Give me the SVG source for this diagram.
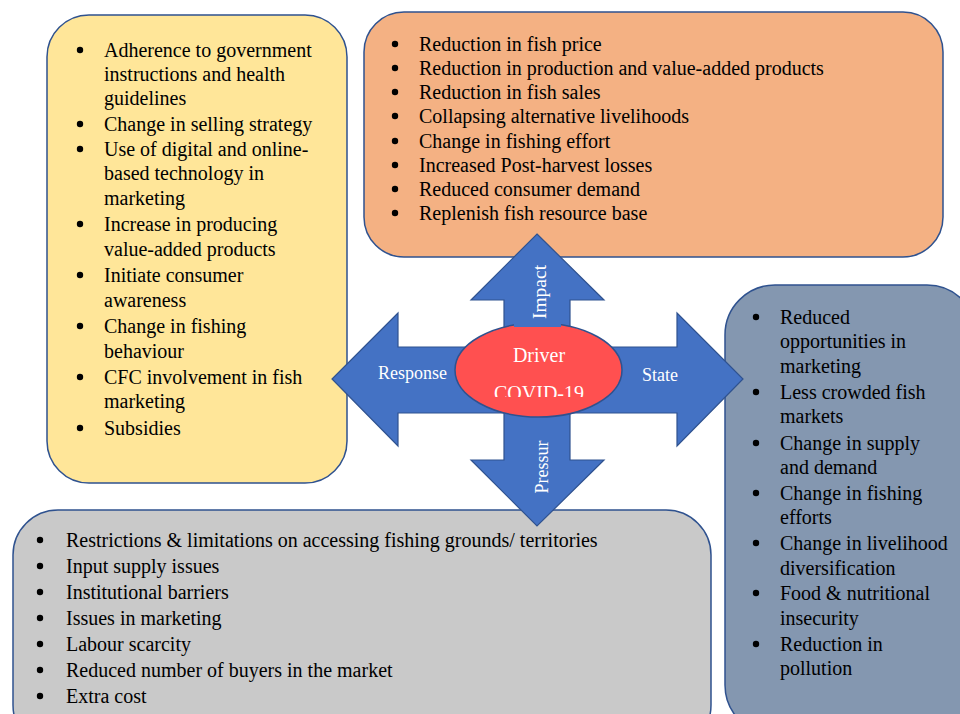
<svg xmlns="http://www.w3.org/2000/svg" width="960" height="714" viewBox="0 0 960 714">
  <style>
    .box { stroke: #2F528F; stroke-width: 1.5; }
    .item { font-family: "Liberation Serif", "Times New Roman", serif; font-size: 20px; fill: #000; }
    .dot { fill: #000; }
    .lbl { font-family: "Liberation Serif", "Times New Roman", serif; font-size: 18px; fill: #FFFFFF; }
    .drv { font-family: "Liberation Serif", "Times New Roman", serif; font-size: 20px; fill: #FFFFFF; text-anchor: middle; }
  </style>
  <defs>
    <clipPath id="ellipseClip">
      <rect x="440" y="320" width="200" height="77"/>
    </clipPath>
  </defs>
  <rect width="960" height="714" fill="#FFFFFF"/>

  <!-- Response box -->
  <g id="response">
    <rect class="box" x="47" y="15" width="300" height="468" rx="42" fill="#FFE699"/>
    <g class="dot">
      <circle cx="80" cy="50" r="3.2"/>
      <circle cx="80" cy="124" r="3.2"/>
      <circle cx="80" cy="149" r="3.2"/>
      <circle cx="80" cy="224" r="3.2"/>
      <circle cx="80" cy="275" r="3.2"/>
      <circle cx="80" cy="326" r="3.2"/>
      <circle cx="80" cy="377" r="3.2"/>
      <circle cx="80" cy="428" r="3.2"/>
    </g>
    <text class="item">
      <tspan x="104" y="57">Adherence to government</tspan>
      <tspan x="104" y="81">instructions and health</tspan>
      <tspan x="104" y="105">guidelines</tspan>
      <tspan x="104" y="131">Change in selling strategy</tspan>
      <tspan x="104" y="156">Use of digital and online-</tspan>
      <tspan x="104" y="180">based technology in</tspan>
      <tspan x="104" y="205">marketing</tspan>
      <tspan x="104" y="231">Increase in producing</tspan>
      <tspan x="104" y="256">value-added products</tspan>
      <tspan x="104" y="282">Initiate consumer</tspan>
      <tspan x="104" y="307">awareness</tspan>
      <tspan x="104" y="333">Change in fishing</tspan>
      <tspan x="104" y="358">behaviour</tspan>
      <tspan x="104" y="384">CFC involvement in fish</tspan>
      <tspan x="104" y="408">marketing</tspan>
      <tspan x="104" y="435">Subsidies</tspan>
    </text>
  </g>

  <!-- Impact box -->
  <g id="impact">
    <rect class="box" x="364" y="12" width="579" height="245" rx="40" fill="#F4B183"/>
    <g class="dot">
      <circle cx="395" cy="44" r="3.2"/>
      <circle cx="395" cy="68" r="3.2"/>
      <circle cx="395" cy="92" r="3.2"/>
      <circle cx="395" cy="116" r="3.2"/>
      <circle cx="395" cy="141" r="3.2"/>
      <circle cx="395" cy="165" r="3.2"/>
      <circle cx="395" cy="189" r="3.2"/>
      <circle cx="395" cy="213" r="3.2"/>
    </g>
    <text class="item">
      <tspan x="419" y="51">Reduction in fish price</tspan>
      <tspan x="419" y="75">Reduction in production and value-added products</tspan>
      <tspan x="419" y="99">Reduction in fish sales</tspan>
      <tspan x="419" y="123">Collapsing alternative livelihoods</tspan>
      <tspan x="419" y="148">Change in fishing effort</tspan>
      <tspan x="419" y="172">Increased Post-harvest losses</tspan>
      <tspan x="419" y="196">Reduced consumer demand</tspan>
      <tspan x="419" y="220">Replenish fish resource base</tspan>
    </text>
  </g>

  <!-- State box -->
  <g id="state">
    <rect class="box" x="725" y="285" width="252" height="450" rx="50" fill="#8497B0"/>
    <g class="dot">
      <circle cx="756" cy="317" r="3.2"/>
      <circle cx="756" cy="392" r="3.2"/>
      <circle cx="756" cy="443" r="3.2"/>
      <circle cx="756" cy="493" r="3.2"/>
      <circle cx="756" cy="543" r="3.2"/>
      <circle cx="756" cy="593" r="3.2"/>
      <circle cx="756" cy="644" r="3.2"/>
    </g>
    <text class="item">
      <tspan x="780" y="324">Reduced</tspan>
      <tspan x="780" y="348">opportunities in</tspan>
      <tspan x="780" y="373">marketing</tspan>
      <tspan x="780" y="399">Less crowded fish</tspan>
      <tspan x="780" y="423">markets</tspan>
      <tspan x="780" y="450">Change in supply</tspan>
      <tspan x="780" y="474">and demand</tspan>
      <tspan x="780" y="500">Change in fishing</tspan>
      <tspan x="780" y="524">efforts</tspan>
      <tspan x="780" y="550">Change in livelihood</tspan>
      <tspan x="780" y="575">diversification</tspan>
      <tspan x="780" y="600">Food &amp; nutritional</tspan>
      <tspan x="780" y="625">insecurity</tspan>
      <tspan x="780" y="651">Reduction in</tspan>
      <tspan x="780" y="675">pollution</tspan>
    </text>
  </g>

  <!-- Pressure box -->
  <g id="pressure">
    <rect class="box" x="13" y="510" width="698" height="240" rx="45" fill="#C9C9C9"/>
    <g class="dot">
      <circle cx="40" cy="540" r="3.2"/>
      <circle cx="40" cy="566" r="3.2"/>
      <circle cx="40" cy="592" r="3.2"/>
      <circle cx="40" cy="618" r="3.2"/>
      <circle cx="40" cy="644" r="3.2"/>
      <circle cx="40" cy="670" r="3.2"/>
      <circle cx="40" cy="696" r="3.2"/>
    </g>
    <text class="item">
      <tspan x="66" y="547">Restrictions &amp; limitations on accessing fishing grounds/ territories</tspan>
      <tspan x="66" y="573">Input supply issues</tspan>
      <tspan x="66" y="599">Institutional barriers</tspan>
      <tspan x="66" y="625">Issues in marketing</tspan>
      <tspan x="66" y="651">Labour scarcity</tspan>
      <tspan x="66" y="677">Reduced number of buyers in the market</tspan>
      <tspan x="66" y="703">Extra cost</tspan>
    </text>
  </g>

  <!-- Four-way arrow linking the driver to each box -->
  <g id="connectors">
    <polygon points="537,234 604,300 570,300 570,347 677,347 677,313 743,379 677,446 677,413 570,413 570,460 604,460 537,526 471,460 504,460 504,413 398,413 398,446 332,379 398,313 398,347 504,347 504,300 471,300" fill="#4472C4" stroke="#2F528F" stroke-width="1.2" stroke-linejoin="miter"/>
    <text class="lbl" x="378" y="379">Response</text>
    <text class="lbl" x="642" y="381">State</text>
    <text class="lbl" text-anchor="middle" transform="translate(548,467) rotate(-90)">Pressur</text>
  </g>

  <!-- Driver -->
  <g id="driver">
    <ellipse cx="538.5" cy="370" rx="83.5" ry="47" fill="#FF5050" stroke="#2F528F" stroke-width="1.5"/>
    <rect x="514" y="300" width="47" height="27" fill="#4472C4"/>
    <text class="lbl" text-anchor="middle" font-size="19.5" style="font-size:19.5px" transform="translate(546,292) rotate(-90)">Impact</text>
    <text class="drv" x="539" y="362">Driver</text>
    <text class="drv" x="539" y="400" clip-path="url(#ellipseClip)">COVID-19</text>
  </g>
</svg>
